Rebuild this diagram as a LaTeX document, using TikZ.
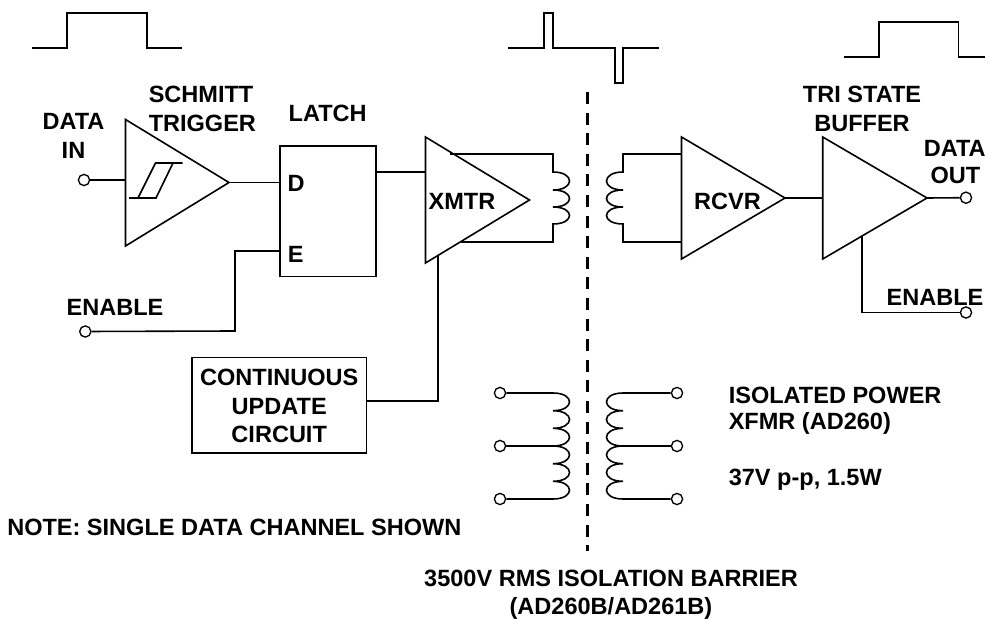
\documentclass[tikz,border=0pt]{standalone}
\usepackage{fontspec}
\setmainfont{Liberation Sans}
\begin{document}
\begin{tikzpicture}[x=0.75pt,y=-0.75pt,
  wire/.style={line width=1.2pt,line join=miter},
  tri/.style={line width=1.2pt,line join=miter},
  term/.style={circle,draw,line width=1pt,fill=white,minimum size=8.4pt,inner sep=0pt},
  lbl/.style={font=\fontsize{17.65}{21.2}\selectfont\bfseries,inner sep=0pt,align=center},
  box/.style={draw,line width=1.2pt,inner sep=0pt,fill=white},
  barrier/.style={line width=2.5pt,dash pattern=on 9pt off 6.45pt}]
\useasboundingbox (0,0) rectangle (985,620);
\clip (0,0) rectangle (985,620);
% waveforms
\draw[wire] (32,48) -- (67,48) -- (67,13) -- (147,13) -- (147,48) -- (182,48);
\draw[wire] (508,48) -- (544,48) -- (544,13) -- (553,13) -- (553,48) -- (615,48) -- (615,83) -- (623,83) -- (623,48) -- (659,48);
\draw[wire] (843.5,57) -- (879,57) -- (879,22) -- (958.5,22) -- (958.5,57) -- (990,57);
% barrier
\coordinate (bt) at (587.5,92);
\coordinate (bb) at (587.5,551);
\draw[barrier] (bt) -- (bb);
% schmitt
\coordinate (sa) at (125.5,119.5);
\coordinate (sb) at (125.5,246);
\coordinate (so) at (229,182.5);
\draw[tri] (sa) -- (sb) -- (so) -- cycle;
\draw[wire] (129,198) -- (156,198) -- (173,163);
\draw[wire] (138,198) -- (155.5,163) -- (182.5,163);
\node[term] (datain) at (84,180) {};
\coordinate (si) at (125.5,180);
\draw[wire] (datain) -- (si);
% latch
\node[box,minimum width=72pt,minimum height=98pt] (latch) at (327.7,211.3) {};
\coordinate (ld) at (279.7,182.5);
\coordinate (le) at (279.7,251);
\coordinate (lq) at (375.7,172);
\draw[wire] (so) -- (ld);
\node[term] (enl) at (85.3,331.5) {};
\draw[wire] (le) -- (235,251) -- (235,331) -- (enl);
% xmtr
\coordinate (xa) at (425.5,137);
\coordinate (xb) at (425.5,263);
\coordinate (xo) at (529.5,200);
\coordinate (xi) at (425.5,172);
\draw[wire] (lq) -- (xi);
\draw[tri] (xa) -- (xb) -- (xo) -- cycle;
\draw[wire] (450,154) -- (553,154) -- (553,172)
  .. controls (575,172) and (575,190) .. (553,190)
  .. controls (575,190) and (575,207) .. (553,207)
  .. controls (575,207) and (575,224) .. (553,224)
  -- (553,242) -- (461,242);
% receive coil
\coordinate (ra) at (681.5,137);
\coordinate (rb) at (681.5,259);
\coordinate (ro) at (785,198);
\draw[wire] (ra |- 0,154) -- (623,154) -- (623,172)
  .. controls (601,172) and (601,190) .. (623,190)
  .. controls (601,190) and (601,207) .. (623,207)
  .. controls (601,207) and (601,224) .. (623,224)
  -- (623,242) -- (ra |- 0,242);
\draw[tri] (ra) -- (rb) -- (ro) -- cycle;
% tri-state
\coordinate (ta) at (822.7,137);
\coordinate (tb) at (822.7,259);
\coordinate (to) at (927,198);
\coordinate (ti) at (822.7,198);
\coordinate (te) at (861.7,236.5);
\draw[wire] (ro) -- (ti);
\draw[tri] (ta) -- (tb) -- (to) -- cycle;
\node[term] (dout) at (966,197.7) {};
\node[term] (enr) at (966,312.5) {};
\draw[wire] (to) -- (dout);
\draw[wire] (te) -- (861.7,312.5) -- (enr);
% continuous update
\node[box,minimum width=131.2pt,minimum height=71.5pt] (cuc) at (279.2,405.3) {};
\coordinate (xe) at (438,256);
\draw[wire] (cuc.east |- 0,400.7) -- (438,400.7) -- (xe);
% power transformer
\node[term] (pl1) at (500,393) {};
\node[term] (pl2) at (500,446) {};
\node[term] (pl3) at (500,499) {};
\node[term] (pr1) at (677,393) {};
\node[term] (pr2) at (677,446) {};
\node[term] (pr3) at (677,499) {};
\draw[wire] (pl1) -- (553,393)
  .. controls (575,393) and (575,410.7) .. (553,410.7)
  .. controls (575,410.7) and (575,428.3) .. (553,428.3)
  .. controls (575,428.3) and (575,446) .. (553,446)
  .. controls (575,446) and (575,463.7) .. (553,463.7)
  .. controls (575,463.7) and (575,481.3) .. (553,481.3)
  .. controls (575,481.3) and (575,499) .. (553,499) -- (pl3);
\draw[wire] (pl2) -- (553,446);
\draw[wire] (pr1) -- (623,393)
  .. controls (601,393) and (601,410.7) .. (623,410.7)
  .. controls (601,410.7) and (601,428.3) .. (623,428.3)
  .. controls (601,428.3) and (601,446) .. (623,446)
  .. controls (601,446) and (601,463.7) .. (623,463.7)
  .. controls (601,463.7) and (601,481.3) .. (623,481.3)
  .. controls (601,481.3) and (601,499) .. (623,499) -- (pr3);
\draw[wire] (pr2) -- (623,446);
% labels
\node[lbl] (t1) at (73.5,136) {DATA\\IN};
\node[lbl,align=left,anchor=west] (t2) at (148.5,109) {SCHMITT\\TRIGGER};
\node[lbl] (t3) at (327.7,113) {LATCH};
\node[lbl] (t4) at (296.2,183) {D};
\node[lbl] (t5) at (295.8,254) {E};
\node[lbl] (t6) at (462,201) {XMTR};
\node[lbl] (t7) at (727.5,201) {RCVR};
\node[lbl] (t8) at (862,109) {TRI STATE\\BUFFER};
\node[lbl,anchor=west] (t9) at (923.5,148) {DATA};
\node[lbl] (t10) at (955.5,175) {OUT};
\node[lbl] (t11) at (935,297.5) {ENABLE};
\node[lbl] (t12) at (115,307) {ENABLE};
\node[lbl] (t13) at (279.2,406) {CONTINUOUS\\UPDATE\\CIRCUIT};
\node[lbl,anchor=west] (t14) at (728.5,395) {ISOLATED POWER};
\node[lbl,anchor=west] (t15) at (728.5,423) {XFMR (AD260)};
\node[lbl,anchor=west] (t16) at (728.5,479.5) {37V p-p, 1.5W};
\node[lbl,anchor=west] (t17) at (7,527) {NOTE: SINGLE DATA CHANNEL SHOWN};
\node[lbl] (t18) at (611,595) {3500V RMS ISOLATION BARRIER\\(AD260B/AD261B)};
\end{tikzpicture}
\end{document}
